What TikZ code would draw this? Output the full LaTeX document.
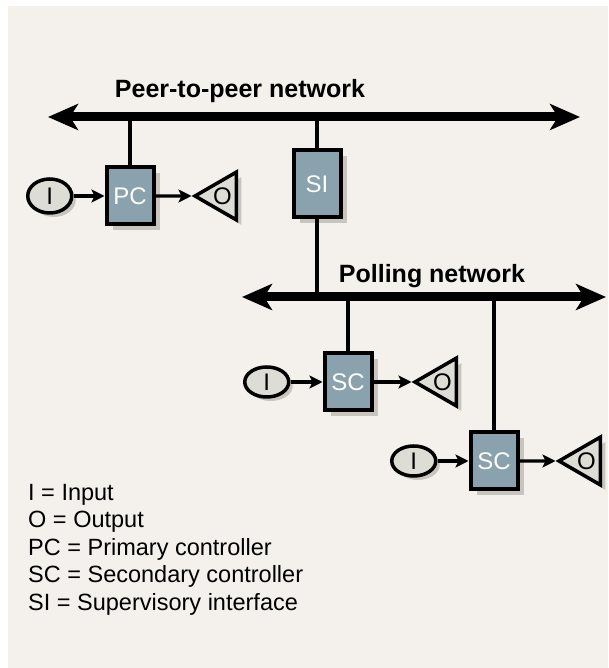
\documentclass[tikz,border=0pt]{standalone}
\usepackage{fontspec}
\setmainfont{Liberation Sans}
\usetikzlibrary{positioning,shapes.geometric,arrows.meta,shadows}

\definecolor{paper}{HTML}{F4F1EC}
\definecolor{ctrlblue}{HTML}{8AA2AE}
\definecolor{iofill}{HTML}{DDDDD5}
\definecolor{shade}{HTML}{C9C5BE}

\tikzset{
  lbl/.style={font=\fontsize{24}{28}\selectfont},
  ctrl/.style={draw, line width=4pt, fill=ctrlblue, text=white, lbl,
    minimum width=47pt, minimum height=57pt, inner sep=0pt,
    drop shadow={shadow xshift=6pt, shadow yshift=-6pt, fill=shade, opacity=1}},
  inbox/.style={ellipse, draw, line width=3.5pt, fill=iofill, lbl,
    minimum width=44pt, minimum height=30pt, inner sep=0pt,
    drop shadow={shadow xshift=4pt, shadow yshift=-4pt, fill=shade, opacity=1}},
  outbox/.style={regular polygon, regular polygon sides=3, regular polygon rotate=90,
    draw, line width=3.5pt, fill=iofill, lbl,
    minimum size=55pt, inner sep=0pt,
    drop shadow={shadow xshift=5pt, shadow yshift=-5pt, fill=shade, opacity=1}},
  bus/.style={line width=9pt, {Stealth[length=30pt,width=26pt,inset=8pt]}-{Stealth[length=30pt,width=26pt,inset=8pt]}},
  link/.style={line width=3.6pt},
  feed/.style={line width=3.4pt, -{Stealth[length=13pt,width=13pt,inset=3pt]}},
  netname/.style={font=\fontsize{25}{29}\selectfont\bfseries, anchor=base}
}

\begin{document}
\begin{tikzpicture}[x=1pt,y=1pt]
  \useasboundingbox (0,0) rectangle (608,668);
  \fill[paper] (8,0) rectangle (608,662);

  \coordinate (p2p west) at (48,551);
  \coordinate (p2p east) at (580,551);
  \coordinate (poll west) at (242,371);
  \coordinate (poll east) at (606,371);
  \node[netname] (p2p name) at (240,570) {Peer-to-peer network};
  \node[netname] (poll name) at (432,385) {Polling network};

  \node[ctrl] (pc) at (130,472) {PC};
  \node[inbox, minimum height=34pt, left=31pt of pc] (pc in) {I};
  \node[outbox, right=36pt of pc] (pc out) {O};

  \node[ctrl, minimum height=67pt] (si) at (317,484) {SI};

  \node[ctrl] (sc1) at (348,286) {SC};
  \node[inbox, left=32pt of sc1] (sc1 in) {I};
  \node[outbox, right=38pt of sc1] (sc1 out) {O};

  \node[ctrl] (sc2) at (494,207) {SC};
  \node[inbox, left=31pt of sc2] (sc2 in) {I};
  \node[outbox, right=36pt of sc2] (sc2 out) {O};

  \coordinate (pc tap) at (pc |- p2p west);
  \coordinate (si tap) at (si |- p2p west);
  \coordinate (si drop) at (si |- poll west);
  \coordinate (sc1 tap) at (sc1 |- poll west);
  \coordinate (sc2 tap) at (sc2 |- poll west);

  \draw[link] (pc tap) -- (pc);
  \draw[link] (si tap) -- (si) -- (si drop);
  \draw[link] (sc1 tap) -- (sc1);
  \draw[link] (sc2 tap) -- (sc2);
  \draw[bus] (p2p west) -- (p2p east);
  \draw[bus] (poll west) -- (poll east);

  \draw[feed] (pc in) -- (pc);
  \draw[feed] (pc) -- (pc out);
  \draw[feed] (sc1 in) -- (sc1);
  \draw[feed] (sc1) -- (sc1 out);
  \draw[feed] (sc2 in) -- (sc2);
  \draw[feed] (sc2) -- (sc2 out);

  \node[align=left, anchor=north west, inner sep=0pt,
    font=\fontsize{23.5}{27.5}\selectfont] (legend) at (28,184)
    {I = Input\\O = Output\\PC = Primary controller\\SC = Secondary controller\\SI = Supervisory interface};
\end{tikzpicture}
\end{document}
